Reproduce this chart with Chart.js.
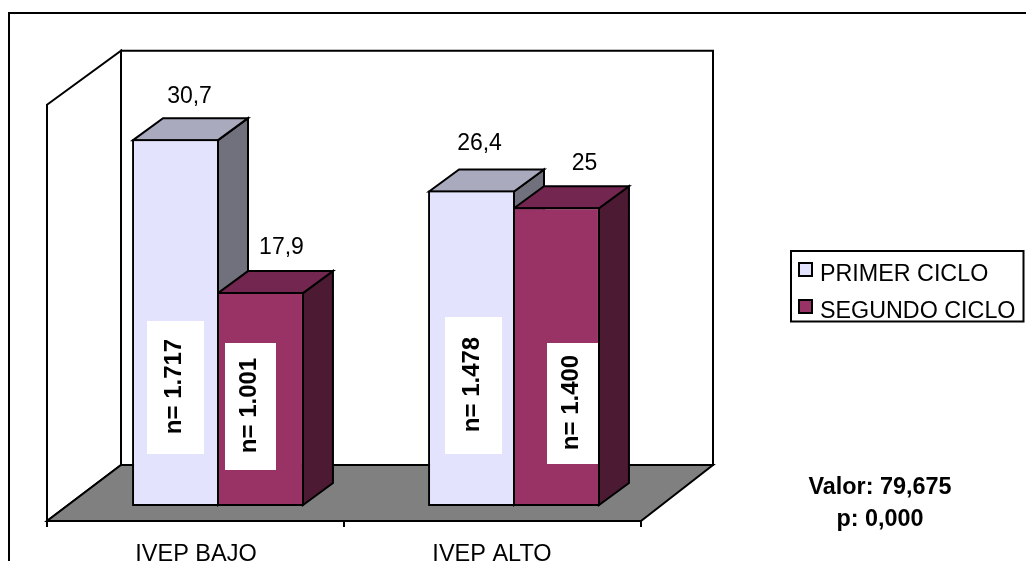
<!DOCTYPE html>
<html>
<head>
<meta charset="utf-8">
<title>IVEP</title>
<script src="https://cdn.jsdelivr.net/npm/chart.js@4"></script>
<style>
  html, body { margin: 0; padding: 0; background: #fff; }
  canvas { display: block; }
</style>
</head>
<body>
<canvas id="ivepChart" width="1026" height="561"></canvas>
<script>
// data
const categories = ['IVEP BAJO', 'IVEP ALTO'];
const seriesNames = ['PRIMER CICLO', 'SEGUNDO CICLO'];
const primerCiclo = [30.7, 26.4];
const segundoCiclo = [17.9, 25];
const nPrimer = ['n= 1.717', 'n= 1.478'];
const nSegundo = ['n= 1.001', 'n= 1.400'];
const statLines = ['Valor: 79,675', 'p: 0,000'];

// faces of each series: front, top, side
const faces = [
  { front: '#E3E3FD', top: '#AAAABE', side: '#71717E' },
  { front: '#993366', top: '#732650', side: '#4D1A33' }
];

const FONT = '"Liberation Sans", Arial, sans-serif';
const barDepth = { x: 30, y: 22 };

// where the white n= boxes sit, [left, top, right, bottom] for each series and category
const nBoxes = [
  [[147, 321, 204, 454], [445, 317, 502, 454]],
  [[225, 343, 276, 470], [547, 343, 598, 464]]
];
// value label shift from the bar top, [right, up]
const valueShift = [
  [[14, 42.4], [8, 46.8]],
  [[21, 44.4], [28, 43.5]]
];

function line(ctx, pts, close) {
  ctx.beginPath();
  pts.forEach((p, i) => i ? ctx.lineTo(p[0], p[1]) : ctx.moveTo(p[0], p[1]));
  if (close) ctx.closePath();
}

function shape(ctx, pts, fill) {
  line(ctx, pts, true);
  if (fill) { ctx.fillStyle = fill; ctx.fill(); }
  ctx.stroke();
}

const scene = {
  id: 'scene',
  beforeDatasetsDraw(chart) {
    const ctx = chart.ctx;
    const area = chart.chartArea;
    const y = chart.scales.y;
    // front and back planes of the box, measured from the plane the bars stand on
    const frontL = area.left - 23, frontR = area.right - 21;
    const backL = area.left + 51, backR = area.right + 51;
    const frontB = y.getPixelForValue(0) + 15, backB = y.getPixelForValue(0) - 41;
    const frontT = y.getPixelForValue(35) + 17, backT = frontT - 54;

    ctx.save();
    ctx.strokeStyle = '#000';
    ctx.lineWidth = 2;
    ctx.lineJoin = 'miter';

    // outer border, it runs off the picture on the right and at the bottom
    line(ctx, [[9, 561], [9, 13], [1026, 13]]);
    ctx.stroke();

    shape(ctx, [[backL, backT], [backR, backT], [backR, backB], [backL, backB]]);
    shape(ctx, [[frontL, frontT], [backL, backT], [backL, backB], [frontL, frontB]]);
    shape(ctx, [[frontL, frontB], [frontR, frontB], [backR, backB], [backL, backB]], '#808080');

    // axis ticks
    [frontL, (frontL + frontR) / 2, frontR].forEach(tx => {
      line(ctx, [[tx, frontB], [tx, frontB + 6]]);
      ctx.stroke();
    });

    // tops and sides of the bars, the library keeps the border inside the bar so step in by 1
    for (let c = 0; c < categories.length; c++) {
      chart.data.datasets.forEach((ds, s) => {
        const bar = chart.getDatasetMeta(s).data[c];
        const l = bar.x - bar.width / 2 + 1, r = bar.x + bar.width / 2 - 1;
        const t = bar.y + 1, b = bar.base - 1;
        const dx = barDepth.x, dy = barDepth.y;
        shape(ctx, [[r, t], [r + dx, t - dy], [r + dx, b - dy], [r, b]], faces[s].side);
        shape(ctx, [[l, t], [l + dx, t - dy], [r + dx, t - dy], [r, t]], faces[s].top);
      });
    }
    ctx.restore();
  },
  afterDatasetsDraw(chart) {
    const ctx = chart.ctx;
    ctx.save();
    ctx.textBaseline = 'middle';
    ctx.textAlign = 'center';

    chart.data.datasets.forEach((ds, s) => {
      const meta = chart.getDatasetMeta(s);
      const texts = s === 0 ? nPrimer : nSegundo;
      ds.data.forEach((v, c) => {
        const bar = meta.data[c];
        // value on top
        ctx.fillStyle = '#000';
        ctx.font = '23px ' + FONT;
        ctx.fillText(String(v).replace('.', ','), bar.x + valueShift[s][c][0], bar.y - valueShift[s][c][1]);

        // white box with the n, turned on its side
        const b = nBoxes[s][c];
        ctx.fillStyle = '#fff';
        ctx.fillRect(b[0], b[1], b[2] - b[0], b[3] - b[1]);
        ctx.save();
        ctx.translate((b[0] + b[2]) / 2 - 1, (b[1] + b[3]) / 2 - 1);
        ctx.rotate(-Math.PI / 2);
        ctx.fillStyle = '#000';
        ctx.font = 'bold 24px ' + FONT;
        ctx.fillText(texts[c], 0, 0);
        ctx.restore();
      });
    });

    // legend
    ctx.strokeStyle = '#000';
    ctx.lineWidth = 2;
    ctx.strokeRect(791, 251, 232.5, 70.5);
    ctx.textAlign = 'left';
    ctx.font = '23.3px ' + FONT;
    seriesNames.forEach((name, s) => {
      const rowY = 273 + s * 37;
      ctx.fillStyle = faces[s].front;
      ctx.fillRect(799, rowY - 10, 13, 13);
      ctx.strokeRect(799, rowY - 10, 13, 13);
      ctx.fillStyle = '#000';
      ctx.fillText(name, 820, rowY + 2);
    });

    // test result
    ctx.textAlign = 'center';
    ctx.font = 'bold 23.4px ' + FONT;
    statLines.forEach((txt, i) => ctx.fillText(txt, 880, 488 + i * 32));
    ctx.restore();
  }
};

new Chart(document.getElementById('ivepChart'), {
  type: 'bar',
  data: {
    labels: categories,
    datasets: [
      { label: seriesNames[0], data: primerCiclo, backgroundColor: faces[0].front },
      { label: seriesNames[1], data: segundoCiclo, backgroundColor: faces[1].front }
    ]
  },
  options: {
    responsive: false,
    animation: false,
    layout: { padding: { left: 70, right: 364, top: 87.75, bottom: 0 } },
    datasets: {
      bar: {
        categoryPercentage: 0.574,
        // slightly over 1 so neighbouring bars share one border line
        barPercentage: 1.0235,
        borderColor: '#000',
        borderWidth: 2,
        borderSkipped: false
      }
    },
    scales: {
      x: {
        grid: { display: false },
        border: { display: false },
        afterFit(axis) { axis.height = 55; },
        ticks: {
          color: '#000',
          font: { family: FONT, size: 23.5 },
          padding: 26,
          labelOffset: -22,
          maxRotation: 0,
          minRotation: 0,
          autoSkip: false
        }
      },
      y: { display: false, min: 0, max: 35 }
    },
    plugins: {
      legend: { display: false },
      tooltip: { enabled: false }
    }
  },
  plugins: [scene]
});
</script>
</body>
</html>
